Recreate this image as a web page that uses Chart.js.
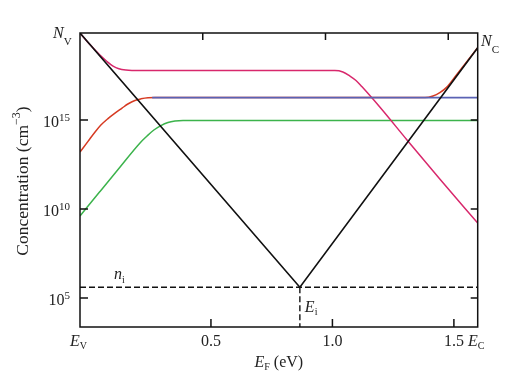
<!DOCTYPE html>
<html><head><meta charset="utf-8">
<script src="https://cdn.jsdelivr.net/npm/chart.js@4.4.1/dist/chart.umd.min.js"></script>
<style>html,body{margin:0;padding:0;background:#fff;}#wrap{width:518px;height:382px;}</style>
</head><body><div id="wrap"><canvas id="c" width="518" height="382"></canvas></div>
<script>
// axis ranges (energy in eV, concentration as log10 exponent)
const xRange = [-0.039, 1.598];
const xTopRange = [0, 1.62];
const yRangeExp = [3.37, 19.89];
const xTickValues = [0.5, 1.0, 1.5];
const xTickLabels = ['0.5', '1.0', '1.5'];
const yTickExponents = [5, 10, 15];
const yTickLabels = ['5', '10', '15'];

// series: Fermi level (eV) and log10 of concentration (cm^-3)
const blackE = [-0.039, 0.866, 1.598];
const blackLog = [19.89, 5.60, 19.06];

const magentaE = [-0.039, 0.002, 0.043, 0.072, 0.097, 0.121, 0.150, 0.208, 1.010, 1.043, 1.072, 1.097, 1.121, 1.195, 1.307, 1.442, 1.598];
const magentaLog = [19.89, 19.24, 18.65, 18.29, 18.03, 17.88, 17.81, 17.78, 17.78, 17.70, 17.47, 17.22, 16.88, 15.73, 13.88, 11.69, 9.21];

const redE = [-0.039, -0.006, 0.023, 0.047, 0.076, 0.105, 0.134, 0.158, 0.187, 0.212, 0.241, 0.270, 1.381, 1.414, 1.442, 1.471, 1.504, 1.598];
const redLog = [13.20, 13.80, 14.33, 14.72, 15.08, 15.39, 15.67, 15.90, 16.10, 16.19, 16.25, 16.26, 16.26, 16.35, 16.54, 16.85, 17.42, 19.06];

const blueE = [0.258, 1.598];
const blueLog = [16.26, 16.26];

const greenE = [-0.039, 0.043, 0.126, 0.208, 0.237, 0.265, 0.294, 0.323, 0.352, 0.385, 1.598];
const greenLog = [9.61, 10.98, 12.36, 13.71, 14.10, 14.44, 14.69, 14.86, 14.94, 14.97, 14.97];

const niLog = 5.60;
const eiEnergy = 0.866;

function pts(es, ls) { return es.map((e, i) => ({ x: e, y: Math.pow(10, ls[i]) })); }

const SERIF = "'Liberation Serif','Times New Roman',serif";
function drawPieces(ctx, pieces, x, y, align) {
  let w = 0;
  const ws = pieces.map(p => { ctx.font = p.f; const m = ctx.measureText(p.t).width; w += m; return m; });
  let sx = align === 'center' ? x - w / 2 : align === 'right' ? x - w : x;
  pieces.forEach((p, i) => { ctx.font = p.f; ctx.fillText(p.t, sx, y + (p.dy || 0)); sx += ws[i]; });
}
const F = (s, it) => (it ? 'italic ' : '') + s + 'px ' + SERIF;

const framePlugin = {
  id: 'frame',
  afterDatasetsDraw(chart) {
    const ctx = chart.ctx, a = chart.chartArea;
    const sx = chart.scales.x, sy = chart.scales.y, st = chart.scales.xTop;
    ctx.save();
    ctx.strokeStyle = '#111'; ctx.lineWidth = 1.5;
    ctx.strokeRect(a.left, a.top, a.right - a.left, a.bottom - a.top);
    ctx.beginPath();
    xTickValues.forEach(v => {
      const px = sx.getPixelForValue(v);
      ctx.moveTo(px, a.bottom); ctx.lineTo(px, a.bottom - 8);
      const pt = st.getPixelForValue(v);
      ctx.moveTo(pt, a.top); ctx.lineTo(pt, a.top + 7);
    });
    yTickExponents.forEach(e => {
      const py = sy.getPixelForValue(Math.pow(10, e));
      ctx.moveTo(a.left, py); ctx.lineTo(a.left + 8, py);
      ctx.moveTo(a.right, py); ctx.lineTo(a.right - 7, py);
    });
    ctx.stroke();

    ctx.fillStyle = '#222'; ctx.textBaseline = 'alphabetic'; ctx.textAlign = 'left';
    xTickValues.forEach((v, i) => {
      drawPieces(ctx, [{ t: xTickLabels[i], f: F(16) }], sx.getPixelForValue(v), 346, 'center');
    });
    drawPieces(ctx, [{ t: 'E', f: F(16, true) }, { t: 'V', f: F(10), dy: 3 }], a.left - 10, 346, 'left');
    drawPieces(ctx, [{ t: 'E', f: F(16, true) }, { t: 'C', f: F(10), dy: 3 }], 468, 346, 'left');
    yTickExponents.forEach((e, i) => {
      const py = sy.getPixelForValue(Math.pow(10, e));
      drawPieces(ctx, [{ t: '10', f: F(16) }, { t: yTickLabels[i], f: F(11), dy: -6 }], a.left - 10, py + 7, 'right');
    });
    drawPieces(ctx, [{ t: 'N', f: F(16, true) }, { t: 'V', f: F(11), dy: 7 }], 53, 38, 'left');
    drawPieces(ctx, [{ t: 'N', f: F(16, true) }, { t: 'C', f: F(11), dy: 7 }], 481, 46, 'left');
    drawPieces(ctx, [{ t: 'E', f: F(16, true) }, { t: 'F', f: F(10), dy: 3 }, { t: ' (eV)', f: F(16) }], (a.left + a.right) / 2, 367, 'center');
    ctx.save();
    ctx.translate(28, 181); ctx.rotate(-Math.PI / 2);
    drawPieces(ctx, [{ t: 'Concentration (cm', f: F(17.5) }, { t: '\u22123', f: F(12), dy: -8 }, { t: ')', f: F(17.5) }], 0, 0, 'center');
    ctx.restore();
    drawPieces(ctx, [{ t: 'n', f: F(16, true) }, { t: 'i', f: F(10), dy: 4 }], 114, 279, 'left');
    drawPieces(ctx, [{ t: 'E', f: F(16, true) }, { t: 'i', f: F(10), dy: 3 }], sx.getPixelForValue(eiEnergy) + 5, 312, 'left');
    ctx.restore();
  }
};

const dash = [6, 3];
new Chart(document.getElementById('c'), {
  type: 'line',
  data: {
    datasets: [
      { label: 'intrinsic', data: pts(blackE, blackLog), borderColor: '#111', borderWidth: 1.6, tension: 0 },
      { label: 'ni', data: [{ x: xRange[0], y: Math.pow(10, niLog) }, { x: xRange[1], y: Math.pow(10, niLog) }], borderColor: '#111', borderWidth: 1.4, borderDash: dash, tension: 0 },
      { label: 'Ei', data: [{ x: eiEnergy, y: Math.pow(10, niLog) }, { x: eiEnergy, y: Math.pow(10, yRangeExp[0]) }], borderColor: '#111', borderWidth: 1.4, borderDash: dash, tension: 0 },
      { label: 'blue', data: pts(blueE, blueLog), borderColor: '#5a62b4', borderWidth: 1.6 },
      { label: 'red', data: pts(redE, redLog), borderColor: '#d63a22', borderWidth: 1.5, cubicInterpolationMode: 'monotone' },
      { label: 'magenta', data: pts(magentaE, magentaLog), borderColor: '#d8286c', borderWidth: 1.5, cubicInterpolationMode: 'monotone' },
      { label: 'green', data: pts(greenE, greenLog), borderColor: '#3cb34c', borderWidth: 1.5, cubicInterpolationMode: 'monotone' }
    ]
  },
  options: {
    responsive: false, animation: false, devicePixelRatio: 1,
    layout: { padding: { left: 80, right: 40.3, top: 33, bottom: 55 } },
    elements: { point: { radius: 0 } },
    plugins: { legend: { display: false }, tooltip: { enabled: false } },
    scales: {
      x: { type: 'linear', display: false, min: xRange[0], max: xRange[1] },
      xTop: { type: 'linear', axis: 'x', position: 'top', display: false, min: xTopRange[0], max: xTopRange[1] },
      y: { type: 'logarithmic', display: false, min: Math.pow(10, yRangeExp[0]), max: Math.pow(10, yRangeExp[1]) }
    }
  },
  plugins: [framePlugin]
});
</script></body></html>
